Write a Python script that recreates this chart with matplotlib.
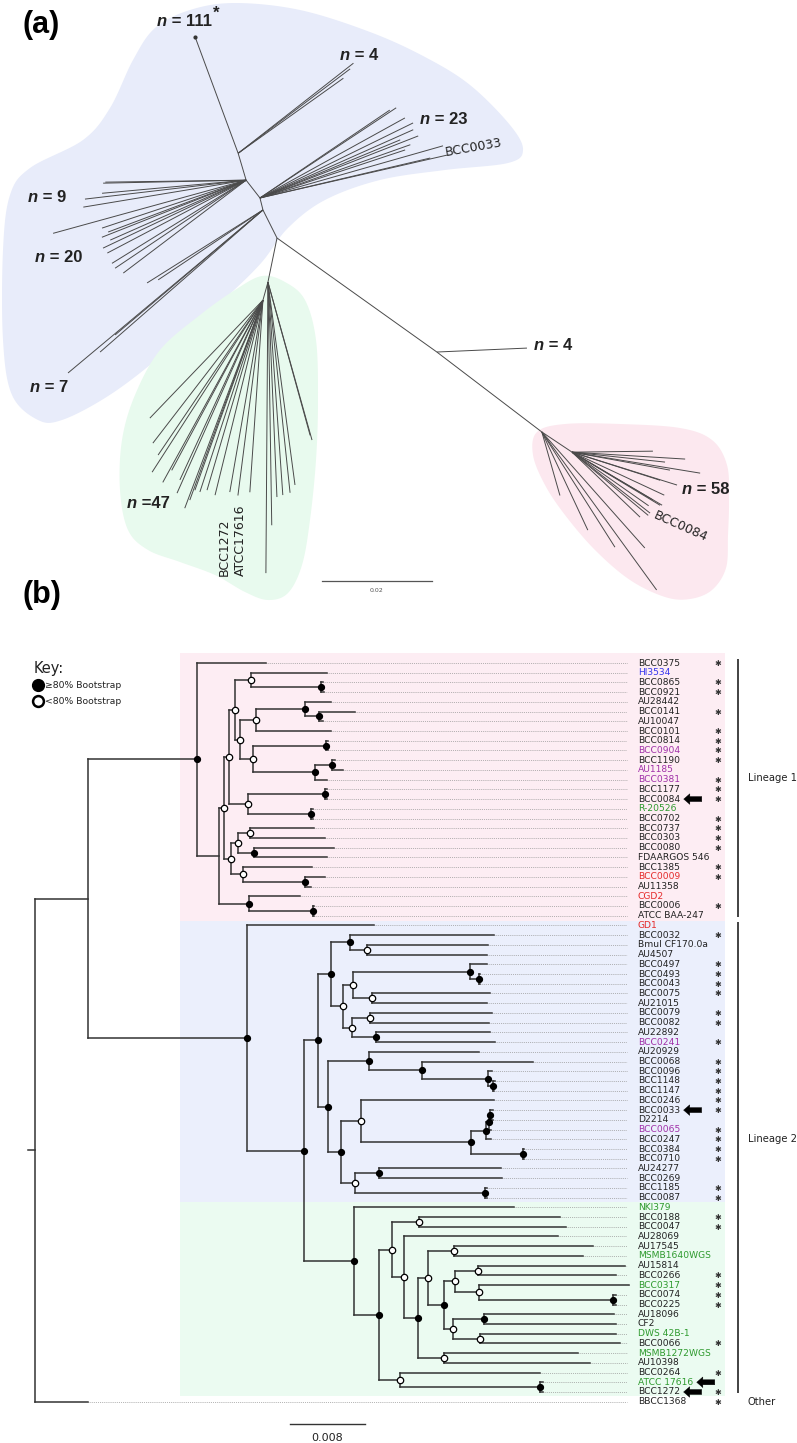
import numpy as np
import matplotlib
matplotlib.use('Agg')
import matplotlib.pyplot as plt
from matplotlib.collections import LineCollection
from matplotlib.patches import Polygon, Rectangle

# ============================ DATA ============================
# ---- Panel (a): unrooted overview tree ----
# backbone edges: child, parent, direction (deg), length (1e-3 subst./site)
A_NODE   = ['B4', 'B3', 'B2', 'B1', 'T111', 'G', 'G2', 'P1', 'P2', 'P3', 'T4']
A_PARENT = ['C', 'B4', 'B3', 'B2', 'B1', 'C', 'G', 'C', 'P1', 'P2', 'P1']
A_ANGLE  = [116.6, 104.0, 127.9, 106.5, 110.3, -101.6, -105.5, -35.5, -37.3, -33.7, 2.5]
A_LEN    = [5.7, 2.25, 4.1, 5.1, 22.5, 8.2, 3.4, 35.7, 24.0, 6.6, 16.4]

# terminal fans: direction (deg) and length (1e-3 subst./site)
N4_ANG  = [38.0, 37.0, 35.5]
N4_LEN  = [26.6, 25.5, 23.5]
N23_ANG = [34.1, 33.5, 28.9, 26.1, 24.0, 22.5, 21.4, 19.5, 18.3, 15.9, 13.2, 12.9]
N23_LEN = [28.5, 29.7, 30.1, 31.0, 30.5, 27.6, 30.9, 29.0, 27.8, 34.6, 31.8, 34.9]
N9_ANG  = [-179.2, -178.8, -174.8, -173.3, -170.6]
N9_LEN  = [25.6, 26.0, 26.3, 29.5, 30.0]
N20_ANG = [-164.6, -161.6, -159.4, -158.4, -156.2, -154.6, -152.3, -148.2, -146.1, -142.9]
N20_LEN = [36.4, 27.6, 26.8, 28.2, 27.0, 28.8, 28.5, 28.7, 28.7, 28.0]
N7_ANG  = [-140.1, -138.9, -139.8, -147.8, -146.3]
N7_LEN  = [46.2, 39.3, 35.2, 24.9, 22.9]
N47L_ANG = [-133.8, -127.6, -124.1, -122.8, -118.8, -118.2, -114.8, -114.0, -110.6,
            -110.1, -109.7, -108.2, -106.4, -103.8, -99.8, -97.3, -93.9]
N47L_LEN = [29.7, 32.8, 34.0, 37.2, 37.8, 35.1, 36.0, 38.4, 40.4,
            38.7, 36.7, 36.7, 36.0, 36.5, 35.4, 35.8, 35.0]
N47R_ANG = [-90.4, -89.1, -87.6, -86.0, -84.0, -82.4, -74.4, -74.6]
N47R_LEN = [52.9, 44.2, 39.1, 38.8, 38.5, 37.2, 29.8, 28.9]
N58A_ANG = [-74.1, -64.9, -57.6, -48.4, -54.0]
N58A_LEN = [12.0, 19.7, 24.8, 28.2, 35.5]
N58B_ANG = [0.7, -3.5, -6.1, -9.3, -10.4, -17.4, -17.7, -30.5, -30.6, -31.1, -38.0,
            -39.7, -43.7, -25.0, -35.0]
N58B_LEN = [14.7, 20.6, 17.0, 23.6, 18.1, 20.0, 16.8, 19.0, 17.1, 18.7, 18.0,
            18.0, 17.1, 18.5, 17.0]
FANS = [('B1', N4_ANG, N4_LEN), ('B3', N23_ANG, N23_LEN), ('B2', N9_ANG, N9_LEN),
        ('B2', N20_ANG, N20_LEN), ('B4', N7_ANG, N7_LEN), ('G2', N47L_ANG, N47L_LEN),
        ('G', N47R_ANG, N47R_LEN), ('P2', N58A_ANG, N58A_LEN), ('P3', N58B_ANG, N58B_LEN)]
CLUSTER_N = ['111', '4', '23', '9', '20', '7', '47', '4', '58']
SCALE_A = 0.02

# ---- Panel (b): rooted phylogram ----
# Newick, branch lengths in 1e-4 subst./site; internal labels H = >=80% bootstrap, L = <80%
L1_NWK = ("(BCC0375:73,(((("
          "(HI3534:81,(BCC0865:2,BCC0921:3)H:75)L:17,"
          "(((AU28442:28,(BCC0141:38,AU10047:4)H:15)H:52,BCC0101:80)L:17,"
          "((BCC0814:3,BCC0904:3)H:77,((BCC1190:3,AU1185:11)H:18,BCC0381:12)H:66)L:14)L:6)L:6,"
          "((BCC1177:2,BCC0084:2)H:82,(R-20526:2,BCC0702:2)H:67)L:20)L:5,"
          "(((BCC0737:69,BCC0303:80)L:13,(BCC0080:85,FDAARGOS 546:77)H:18)L:7,"
          "(BCC1385:73,(BCC0009:21,AU11358:6)H:66)L:13)L:7)L:6,"
          "(CGD2:55,(BCC0006:2,ATCC BAA-247:2)H:68)H:32):23)H:116")
GREEN_NWK = ("(NKI379:171,(((BCC0188:150,BCC0047:156)L:29,(AU28069:164,"
             "(((AU17545:148,MSMB1640WGS:138)L:28,"
             "(((AU15814:156,BCC0266:147)L:25,(BCC0317:160,(BCC0074:4,BCC0225:4)H:142)L:26)L:12,"
             "((AU18096:139,CF2:141)H:33,(DWS 42B-1:145,BCC0066:149)L:29)L:10)H:17)L:10,"
             "(MSMB1272WGS:143,AU10398:156)L:27)H:15)L:13)L:14,"
             "(BCC0264:150,(ATCC 17616:3,BCC1272:3)H:150)L:22)H:27)H:53")
L2_NWK = ("(GD1:136,((("
          "(BCC0032:154,(Bmul CF170.0a:129,AU4507:128)L:18)H:20,"
          "(((BCC0497:18,(BCC0493:1,BCC0043:1)H:10)H:125,(BCC0075:126,AU21015:123)L:20)L:11,"
          "((BCC0079:130,BCC0082:127)L:19,(AU22892:121,BCC0241:127)H:26)L:10)L:12)H:14,"
          "((AU20929:118,(BCC0068:118,(BCC0096:4,(BCC1148:2,BCC1147:1)H:6)H:70)H:57)H:43,"
          "((BCC0246:142,((((BCC0033:3,D2214:3)H:1,BCC0065:2)H:3,BCC0247:5)H:16,"
          "(BCC0384:2,BCC0710:2)H:55)H:117)L:22,"
          "((AU24277:130,BCC0269:131)H:26,(BCC1185:2,BCC0087:2)H:139)L:15)H:13)H:11)H:15,"
          + GREEN_NWK + ")H:61)H:169")
NEWICK = "((" + L1_NWK + "," + L2_NWK + "):57,BBCC1368:57):7;"

BLUE_LABELS   = ['HI3534']
PURPLE_LABELS = ['BCC0904', 'AU1185', 'BCC0381', 'BCC0241', 'BCC0065']
GREEN_LABELS  = ['R-20526', 'NKI379', 'MSMB1640WGS', 'BCC0317', 'DWS 42B-1',
                 'MSMB1272WGS', 'ATCC 17616']
RED_LABELS    = ['BCC0009', 'CGD2', 'GD1']
STARRED = ['BCC0375', 'BCC0865', 'BCC0921', 'BCC0141', 'BCC0101', 'BCC0814', 'BCC0904',
           'BCC1190', 'BCC0381', 'BCC1177', 'BCC0084', 'BCC0702', 'BCC0737', 'BCC0303',
           'BCC0080', 'BCC1385', 'BCC0009', 'BCC0006',
           'BCC0032', 'BCC0497', 'BCC0493', 'BCC0043', 'BCC0075', 'BCC0079', 'BCC0082',
           'BCC0241', 'BCC0068', 'BCC0096', 'BCC1148', 'BCC1147', 'BCC0246', 'BCC0033',
           'BCC0065', 'BCC0247', 'BCC0384', 'BCC0710', 'BCC1185', 'BCC0087',
           'BCC0188', 'BCC0047', 'BCC0266', 'BCC0317', 'BCC0074', 'BCC0225', 'BCC0066',
           'BCC0264', 'BCC1272', 'BBCC1368']
ARROWED = ['BCC0084', 'BCC0033', 'ATCC 17616', 'BCC1272']
BANDS = [('BCC0375', 'ATCC BAA-247'), ('GD1', 'BCC0087'), ('NKI379', 'BCC1272')]
LINEAGES = [('Lineage 1', 'BCC0375', 'ATCC BAA-247'), ('Lineage 2', 'GD1', 'BCC1272')]
OTHER = ('Other', 'BBCC1368')
SCALE_B = 0.008

# ============================ STYLE ============================
W, H, DPI = 797, 1443, 100
TXT = '#222222'
BAND_COLORS = ['#fdedf3', '#ebeffc', '#ebfbf1']
BLOB_BLUE, BLOB_GREEN, BLOB_PINK = '#e8ecfa', '#e8faee', '#fce8ef'
COL = {'blue': '#3535ee', 'purple': '#a030a8', 'green': '#2e9a2e', 'red': '#e52a2a'}
NFONT = ['Liberation Sans', 'DejaVu Sans']

fig = plt.figure(figsize=(W / DPI, H / DPI), dpi=DPI)


def px_axes(x0, y0, x1, y1):
    ax = fig.add_axes([x0 / W, 1 - y1 / H, (x1 - x0) / W, (y1 - y0) / H])
    ax.set_axis_off()
    return ax


def smooth_closed(pts, n=16):
    pts = np.asarray(pts, float)
    N = len(pts)
    out = []
    t = np.linspace(0, 1, n, endpoint=False)[:, None]
    for i in range(N):
        p0, p1, p2, p3 = pts[(i - 1) % N], pts[i], pts[(i + 1) % N], pts[(i + 2) % N]
        out.append(0.5 * ((2 * p1) + (-p0 + p2) * t + (2 * p0 - 5 * p1 + 4 * p2 - p3) * t ** 2
                          + (-p0 + 3 * p1 - 3 * p2 + p3) * t ** 3))
    return np.vstack(out)


# ============================ PANEL (a) ============================
axA = px_axes(0, 0, W, 620)
SA = 0.02 / 110.0      # subst./site per pixel
CX, CY = 277, 238      # pixel position of the central node
axA.set_xlim(-CX * SA, (W - CX) * SA)
axA.set_ylim(-(620 - CY) * SA, CY * SA)


def pa(px, py):
    return ((px - CX) * SA, (CY - py) * SA)


BLUE_OUT = [(30, 168), (83, 140), (110, 108), (133, 60), (155, 28), (190, 10), (235, 3),
            (300, 10), (370, 32), (425, 57), (470, 85), (510, 125), (523, 150), (508, 163),
            (445, 170), (380, 180), (325, 200), (288, 228), (262, 262), (232, 292),
            (198, 322), (150, 365), (105, 398), (62, 420), (38, 420), (12, 395), (3, 340),
            (3, 250), (10, 195)]
GREEN_OUT = [(262, 276), (285, 282), (305, 300), (316, 340), (318, 400), (316, 460),
             (310, 520), (302, 565), (288, 593), (268, 600), (245, 592), (215, 575),
             (180, 562), (148, 550), (128, 530), (120, 490), (122, 440), (135, 395),
             (160, 350), (200, 315), (235, 290)]
PINK_OUT = [(537, 432), (565, 424), (620, 424), (680, 428), (712, 440), (727, 465),
            (729, 500), (728, 535), (726, 568), (712, 590), (690, 599), (665, 597),
            (630, 580), (595, 550), (565, 515), (545, 485), (533, 455)]
for outline, col in [(BLUE_OUT, BLOB_BLUE), (GREEN_OUT, BLOB_GREEN), (PINK_OUT, BLOB_PINK)]:
    poly = smooth_closed([pa(*p) for p in outline])
    axA.add_patch(Polygon(poly, closed=True, facecolor=col, edgecolor='none', zorder=0))

pos = {'C': np.array([0.0, 0.0])}
segsA = []
for node, par, ang, ln in zip(A_NODE, A_PARENT, A_ANGLE, A_LEN):
    d = np.deg2rad(ang)
    pos[node] = pos[par] + ln * 1e-3 * np.array([np.cos(d), np.sin(d)])
    segsA.append([pos[par], pos[node]])
for base, angs, lens in FANS:
    for ang, ln in zip(angs, lens):
        d = np.deg2rad(ang)
        segsA.append([pos[base], pos[base] + ln * 1e-3 * np.array([np.cos(d), np.sin(d)])])
axA.add_collection(LineCollection(segsA, colors='#4a4a4a', linewidths=0.7, zorder=2))
axA.plot(*pos['T111'], 'o', ms=2, color='#333333', zorder=3)

NFS = 12


def nlabel(px, py, count, sep=' = ', star=False):
    x, y = pa(px, py)
    t1 = axA.text(x, y, 'n', fontsize=NFS, fontweight='bold', fontstyle='italic',
                  family=NFONT, ha='left', va='center', color=TXT, zorder=5)
    t2 = axA.annotate(sep + count, xy=(1, 0), xycoords=t1, ha='left', va='bottom',
                      fontsize=NFS, fontweight='bold', family=NFONT, color=TXT, zorder=5)
    if star:
        axA.annotate('*', xy=(1, 1), xycoords=t2, xytext=(0.5, 6), textcoords='offset points',
                     ha='left', va='top', fontsize=NFS, fontweight='bold', family=NFONT,
                     color=TXT, zorder=5)


nlabel(157, 22, CLUSTER_N[0], star=True)
nlabel(340, 56, CLUSTER_N[1])
nlabel(420, 120, CLUSTER_N[2])
nlabel(28, 197, CLUSTER_N[3])
nlabel(35, 258, CLUSTER_N[4])
nlabel(30, 388, CLUSTER_N[5])
nlabel(127, 503, CLUSTER_N[6], sep=' =')
nlabel(534, 345, CLUSTER_N[7])
nlabel(682, 490, CLUSTER_N[8])

axA.text(*pa(474, 148), 'BCC0033', rotation=10, fontsize=9, ha='center', va='center',
         color=TXT, rotation_mode='anchor')
axA.text(*pa(681, 527), 'BCC0084', rotation=-24, fontsize=9, ha='center', va='center',
         color=TXT, rotation_mode='anchor')
axA.text(*pa(224, 547), 'BCC1272', rotation=90, fontsize=9, ha='center', va='center',
         color=TXT)
axA.text(*pa(240, 540), 'ATCC17616', rotation=90, fontsize=9, ha='center', va='center',
         color=TXT)

sx0, sy0 = pa(322, 581)
axA.plot([sx0, sx0 + SCALE_A], [sy0, sy0], color='#555555', lw=0.9)
axA.text(sx0 + SCALE_A / 2, sy0 - 9 * SA, f'{SCALE_A:g}', fontsize=4.5, ha='center',
         va='center', color='#555555')

# ============================ PANEL (b) ============================


def parse_newick(s):
    s = s.strip().rstrip(';')
    i = 0

    def node():
        nonlocal i
        nd = {'children': [], 'name': '', 'len': 0.0}
        if s[i] == '(':
            i += 1
            while True:
                nd['children'].append(node())
                if s[i] == ',':
                    i += 1
                    continue
                i += 1  # ')'
                break
        st = i
        while i < len(s) and s[i] not in ':,()':
            i += 1
        nd['name'] = s[st:i].strip()
        if i < len(s) and s[i] == ':':
            i += 1
            st = i
            while i < len(s) and s[i] not in ',()':
                i += 1
            nd['len'] = float(s[st:i])
        return nd
    return node()


root = parse_newick(NEWICK)
leaves = []


def layout(nd, xpar):
    nd['x'] = xpar + nd['len'] * 1e-4
    if nd['children']:
        for c in nd['children']:
            layout(c, nd['x'])
        nd['y'] = 0.5 * (nd['children'][0]['y'] + nd['children'][-1]['y'])
    else:
        nd['y'] = float(len(leaves))
        leaves.append(nd)


layout(root, -root['len'] * 1e-4)
assert len(leaves) == 77, len(leaves)
row = {lf['name']: lf['y'] for lf in leaves}

axB = px_axes(0, 600, W, H)
SB = SCALE_B / 75.0
ROOT_PX, ROW0_PX, ROW_PX = 35, 663, 9.72
axB.set_xlim(-ROOT_PX * SB, (W - ROOT_PX) * SB)
axB.set_ylim((H - ROW0_PX) / ROW_PX, (600 - ROW0_PX) / ROW_PX)


def bx(px):
    return (px - ROOT_PX) * SB


def by(py):
    return (py - ROW0_PX) / ROW_PX


# background bands
for k, ((a, b), col) in enumerate(zip(BANDS, BAND_COLORS)):
    top = row[a] - (1.03 if k == 0 else 0.5)
    bot = row[b] + 0.5 if k < len(BANDS) - 1 else row[b] + 0.45
    axB.add_patch(Rectangle((bx(180), top), bx(725) - bx(180), bot - top,
                            facecolor=col, edgecolor='none', zorder=0))

# tree lines
hsegs, vsegs, dots = [], [], []
fill_nodes, open_nodes = [], []


def collect(nd, xpar):
    hsegs.append([(xpar, nd['y']), (nd['x'], nd['y'])])
    if nd['children']:
        vsegs.append([(nd['x'], nd['children'][0]['y']), (nd['x'], nd['children'][-1]['y'])])
        if nd['name'] == 'H':
            fill_nodes.append((nd['x'], nd['y']))
        elif nd['name'] == 'L':
            open_nodes.append((nd['x'], nd['y']))
        for c in nd['children']:
            collect(c, nd['x'])
    else:
        dots.append([(nd['x'], nd['y']), (bx(627), nd['y'])])


collect(root, root['x'] - root['len'] * 1e-4)
axB.add_collection(LineCollection(dots, colors='#9a9a9a', linewidths=0.6,
                                  linestyles=[(0, (1.0, 1.3))], zorder=1))
axB.add_collection(LineCollection(hsegs + vsegs, colors='#333333', linewidths=1.1,
                                  capstyle='projecting', zorder=2))
fx, fy = zip(*fill_nodes)
axB.plot(fx, fy, 'o', ms=4.2, color='black', zorder=3, linestyle='none')
ox, oy = zip(*open_nodes)
axB.plot(ox, oy, 'o', ms=4.6, mfc='white', mec='black', mew=0.9, zorder=3, linestyle='none')

# leaf labels, stars, arrows
label_color = {}
for names, key in [(BLUE_LABELS, 'blue'), (PURPLE_LABELS, 'purple'),
                   (GREEN_LABELS, 'green'), (RED_LABELS, 'red')]:
    for nm in names:
        label_color[nm] = COL[key]
label_art = {}
for lf in leaves:
    nm = lf['name']
    label_art[nm] = axB.text(bx(638), lf['y'], nm, fontsize=6.6, ha='left', va='center',
                             color=label_color.get(nm, TXT), zorder=4)
    if nm in STARRED:
        axB.text(bx(718), lf['y'] + 0.05, '✱', fontsize=5.8,
                 ha='center', va='center', color='#333333', zorder=4)
for nm in ARROWED:
    axB.annotate('', xy=(1, 0.5), xycoords=label_art[nm], xytext=(15.5, 0),
                 textcoords='offset points',
                 arrowprops=dict(arrowstyle='simple,head_length=0.55,head_width=0.95,tail_width=0.45',
                                 fc='black', ec='black', lw=0.3, shrinkA=0, shrinkB=2.5,
                                 mutation_scale=8))

# lineage bars
for name, a, b in LINEAGES:
    y0, y1 = row[a] - 0.4, row[b] + 0.15
    axB.plot([bx(738), bx(738)], [y0, y1], color='#222222', lw=1.2, solid_capstyle='butt')
    axB.text(bx(748), y0 + 0.46 * (y1 - y0), name, fontsize=7.2, ha='left', va='center',
             color=TXT)
axB.text(bx(748), row[OTHER[1]], OTHER[0], fontsize=7.2, ha='left', va='center', color=TXT)

# key
axB.text(bx(34), by(668), 'Key:', fontsize=10.5, ha='left', va='center', color=TXT)
axB.plot(bx(38), by(685), 'o', ms=8.5, color='black')
axB.plot(bx(38), by(701), 'o', ms=7.8, mfc='white', mec='black', mew=1.8)
axB.text(bx(45.5), by(685), '≥80% Bootstrap', fontsize=6.7, ha='left', va='center', color=TXT)
axB.text(bx(45.5), by(701), '<80% Bootstrap', fontsize=6.7, ha='left', va='center', color=TXT)

# scale bar
axB.plot([bx(290), bx(290) + SCALE_B], [by(1424), by(1424)], color='#333333', lw=1.0)
axB.text(bx(290) + SCALE_B / 2, by(1438), f'{SCALE_B:g}', fontsize=8, ha='center',
         va='center', color=TXT)

# panel letters
fig.text(22 / W, 1 - 25 / H, '(a)', fontsize=22, fontweight='bold', family=NFONT,
         ha='left', va='center', color='black')
fig.text(22 / W, 1 - 595 / H, '(b)', fontsize=22, fontweight='bold', family=NFONT,
         ha='left', va='center', color='black')

fig.savefig('out.png', dpi=DPI)
